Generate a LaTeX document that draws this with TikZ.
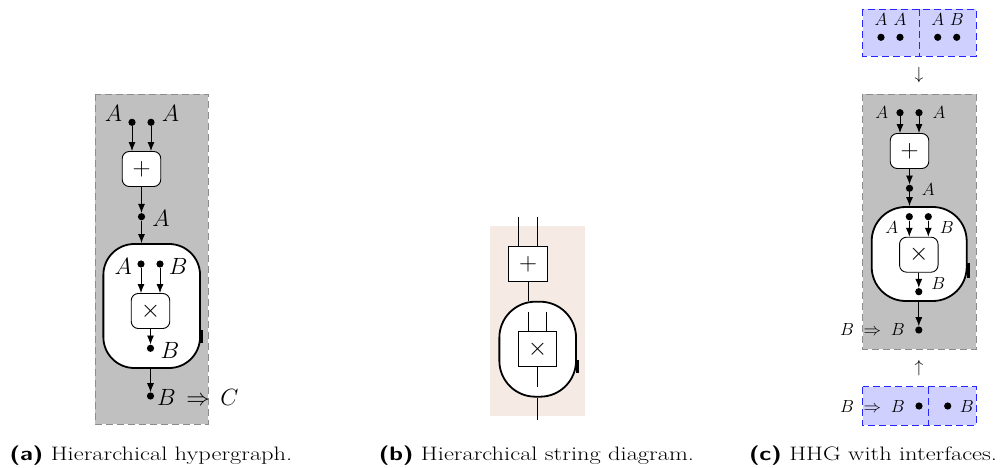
\RequirePackage{fix-cm}
\documentclass[tikz,border=0pt]{standalone}
\usepackage{amsmath,amssymb}
\usepackage{graphicx}
\usepackage{fontspec}
\usetikzlibrary{arrows.meta}
\definecolor{beige}{RGB}{245,235,228}
\definecolor{hgray}{RGB}{192,192,192}
\definecolor{hblue}{RGB}{208,208,255}
\newsavebox\capboxa
\newsavebox\capboxb
\newsavebox\capboxc
\newcommand\capfnt{\fontsize{19.5}{19.5}\selectfont}
\begin{document}
\sbox\capboxa{\capfnt\textsf{\bfseries (a)} Hierarchical hypergraph.}%
\sbox\capboxb{\capfnt\textsf{\bfseries (b)} Hierarchical string diagram.}%
\sbox\capboxc{\capfnt\textsf{\bfseries (c)} HHG with interfaces.}%
\pgfmathsetmacro\capk{248/(\the\wd\capboxc)}%
\begin{tikzpicture}[x=1pt,y=-1pt,
  dotn/.style={circle,fill=black,inner sep=0pt,minimum size=7.2pt},
  laba/.style={font=\fontsize{23.5}{23.5}\selectfont,inner sep=0pt},
  labc/.style={font=\fontsize{17.5}{17.5}\selectfont,inner sep=0pt},
  opbox/.style={draw,line width=0.9pt,rounded corners=7pt,fill=white,minimum width=38.5pt,minimum height=35pt,inner sep=0pt,font=\fontsize{25}{25}\selectfont},
  sqbox/.style={draw,line width=0.9pt,fill=white,minimum width=39pt,minimum height=35pt,inner sep=0pt,font=\fontsize{25}{25}\selectfont},
  hier/.style={draw,line width=1.8pt,fill=white,inner sep=0pt},
  arr/.style={-{Latex[length=9pt,width=7pt]},line width=0.9pt},
  wire/.style={line width=0.9pt},
  region/.style={draw=black!45,line width=0.9pt,dash pattern=on 7pt off 4pt},
  iface/.style={fill=hblue,draw=blue!85,line width=0.9pt,dash pattern=on 7pt off 4pt},
  tab/.style={line width=2.8pt},
  capt/.style={inner sep=0pt,anchor=base}
]
\useasboundingbox (0,0) rectangle (1003,468);

% ================= (a) =================
\fill[hgray] (95,94) rectangle (208,424);
\draw[region] (95,94) rectangle (208,424);
\node[dotn] (a1) at (132,122.3) {};
\node[dotn] (a2) at (151,122.3) {};
\node[laba] (la1) at (113.5,113.5) {$A$};
\node[laba] (la2) at (170.5,113.5) {$A$};
\node[opbox] (p1) at (141.5,169) {$+$};
\node[dotn] (a3) at (141.5,216.7) {};
\node[laba] (la3) at (161,218) {$A$};
\node[hier,minimum width=96.7pt,minimum height=124pt,rounded corners=31pt] (h1) at (151.7,306) {};
\draw[tab] ([xshift=0.6pt,yshift=-24pt]h1.east) -- ([xshift=0.6pt,yshift=-37pt]h1.east);
\node[dotn] (b1) at (141,264) {};
\node[dotn] (b2) at (160,264) {};
\node[laba] (lb1) at (123.3,266.5) {$A$};
\node[laba] (lb2) at (178.3,266.5) {$B$};
\node[opbox] (m1) at (150.5,311) {$\times$};
\node[dotn] (b3) at (150.5,348.3) {};
\node[laba] (lb3) at (170,350) {$B$};
\node[dotn] (a4) at (150.5,396) {};
\node[laba,anchor=west] (la4) at (157,397) {$B \,\Rightarrow\, C$};
\draw[arr] (a1) -- (a1 |- p1.north);
\draw[arr] (a2) -- (a2 |- p1.north);
\draw[arr] (p1.south) -- (a3);
\draw[arr] (a3) -- (a3 |- h1.north);
\draw[arr] (b1) -- (b1 |- m1.north);
\draw[arr] (b2) -- (b2 |- m1.north);
\draw[arr] (m1.south) -- (b3);
\draw[arr] (a4 |- h1.south) -- (a4);

% ================= (b) =================
\fill[beige] (490,226) rectangle (585,416);
\node[sqbox] (pb) at (528,264) {$+$};
\coordinate (t1) at (518.3,216.7);
\coordinate (t2) at (537.7,216.7);
\draw[wire] (t1) -- (t1 |- pb.north);
\draw[wire] (t2) -- (t2 |- pb.north);
\node[hier,minimum width=76.7pt,minimum height=95pt,rounded corners=36pt] (hb) at (537.7,349.2) {};
\draw[tab] ([xshift=0.6pt,yshift=-11pt]hb.east) -- ([xshift=0.6pt,yshift=-24pt]hb.east);
\draw[wire] (pb.south) -- (pb.south |- hb.north);
\node[sqbox,minimum width=38.4pt] (mb) at (537.5,349.2) {$\times$};
\coordinate (i1) at (528.3,311.7);
\coordinate (i2) at (546.7,311.7);
\draw[wire] (i1) -- (i1 |- mb.north);
\draw[wire] (i2) -- (i2 |- mb.north);
\coordinate (i3) at (537.7,386.7);
\draw[wire] (mb.south -| i3) -- (i3);
\coordinate (bo) at (537.7,420);
\draw[wire] (bo |- hb.south) -- (bo);

% ================= (c) =================
\draw[iface] (862.7,9.3) rectangle (976,56);
\coordinate (dv1) at (919,9.3);
\coordinate (dv2) at (919,56);
\draw[draw=blue!85,line width=0.9pt,dash pattern=on 7pt off 4pt] (dv1) -- (dv2);
\node[labc] (u1) at (881,20) {$A$};
\node[labc] (u2) at (900,20) {$A$};
\node[labc] (u3) at (937.7,20) {$A$};
\node[labc] (u4) at (956.7,20) {$B$};
\node[dotn] (ud1) at (881,37.3) {};
\node[dotn] (ud2) at (900,37.3) {};
\node[dotn] (ud3) at (937.7,37.3) {};
\node[dotn] (ud4) at (956.7,37.3) {};
\node[labc] (dn) at (919,75) {$\downarrow$};

\fill[hgray] (862.7,94.3) rectangle (976,349);
\draw[region] (862.7,94.3) rectangle (976,349);
\node[dotn] (c1) at (900,112.7) {};
\node[dotn] (c2) at (919,112.7) {};
\node[labc] (lc1) at (881.7,113) {$A$};
\node[labc] (lc2) at (939,113) {$A$};
\node[opbox] (pc) at (909.5,151) {$+$};
\node[dotn] (c3) at (909.5,188.3) {};
\node[labc] (lc3) at (928.3,190) {$A$};
\node[hier,minimum width=95pt,minimum height=94pt,rounded corners=34pt] (hc) at (919.2,254) {};
\draw[tab] ([xshift=0.6pt,yshift=-9pt]hc.east) -- ([xshift=0.6pt,yshift=-24pt]hc.east);
\node[dotn] (d1) at (909.3,216.7) {};
\node[dotn] (d2) at (928.3,216.7) {};
\node[labc] (ld1) at (891.7,227.3) {$A$};
\node[labc] (ld2) at (946.7,227.3) {$B$};
\node[opbox] (mc) at (918.8,254.7) {$\times$};
\node[dotn] (d3) at (918.8,291.7) {};
\node[labc] (ld3) at (938.3,283.3) {$B$};
\node[dotn] (c4) at (918.8,330) {};
\node[labc,anchor=east] (lc4) at (905,330) {$B \;\Rightarrow\; B$};
\draw[arr] (c1) -- (c1 |- pc.north);
\draw[arr] (c2) -- (c2 |- pc.north);
\draw[arr] (pc.south) -- (c3);
\draw[arr] (c3) -- (c3 |- hc.north);
\draw[arr] (d1) -- (d1 |- mc.north);
\draw[arr] (d2) -- (d2 |- mc.north);
\draw[arr] (mc.south) -- (d3);
\draw[arr] (c4 |- hc.south) -- (c4);
\node[labc] (up) at (919,368) {$\uparrow$};

\draw[iface] (862.7,386.7) rectangle (976,425);
\coordinate (dv3) at (928.3,386.7);
\coordinate (dv4) at (928.3,425);
\draw[draw=blue!85,line width=0.9pt,dash pattern=on 7pt off 4pt] (dv3) -- (dv4);
\node[labc,anchor=east] (lo1) at (905,406.5) {$B \;\Rightarrow\; B$};
\node[dotn] (od1) at (919,406) {};
\node[dotn] (od2) at (947.7,406) {};
\node[labc] (lo2) at (966.7,406.5) {$B$};

% ================= captions =================
\node[capt] (ca) at (151,460) {\scalebox{\capk}[1]{\usebox\capboxa}};
\node[capt] (cb) at (536.5,460) {\scalebox{\capk}[1]{\usebox\capboxb}};
\node[capt] (cc) at (873,460) {\scalebox{\capk}[1]{\usebox\capboxc}};
\end{tikzpicture}
\end{document}
